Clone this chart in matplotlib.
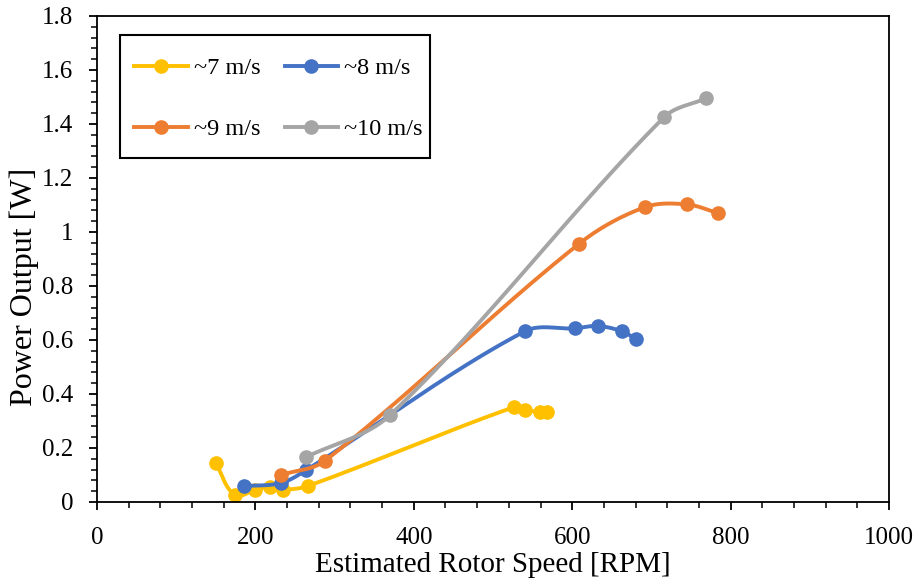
import matplotlib.pyplot as plt
import numpy as np
from matplotlib.patches import Rectangle
from matplotlib.ticker import MultipleLocator

plt.rcParams['font.family'] = ['Liberation Serif', 'DejaVu Serif']

# data (RPM, W)
rpm_7 = [150, 174, 199, 218, 235, 266, 527, 541, 559, 568]
pw_7 = [0.144, 0.026, 0.044, 0.055, 0.046, 0.059, 0.352, 0.342, 0.332, 0.333]
rpm_8 = [185, 232, 264, 540, 604, 632, 663, 681]
pw_8 = [0.059, 0.070, 0.118, 0.632, 0.643, 0.652, 0.632, 0.602]
rpm_9 = [232, 288, 609, 692, 745, 784]
pw_9 = [0.100, 0.153, 0.957, 1.092, 1.102, 1.070]
rpm_10 = [264, 370, 716, 769]
pw_10 = [0.166, 0.322, 1.425, 1.495]

labels = ['~7 m/s', '~8 m/s', '~9 m/s', '~10 m/s']
colors = ['#FFC000', '#4472C4', '#ED7D31', '#A5A5A5']

# rough pixel scale of the axes, so the smoothing works in screen space
SX, SY = 0.793, 270.6


def smooth(x, y, n=40, k=1 / 3):
    # bezier through the points, tangent from the neighbours and
    # handle length tied to the segment length (Excel-like smoothing)
    p = np.column_stack([np.asarray(x, float) * SX, np.asarray(y, float) * SY])
    ext = np.vstack([2 * p[0] - p[1], p, 2 * p[-1] - p[-2]])
    t = np.linspace(0, 1, n)[:, None]
    out = []
    for i in range(1, len(ext) - 2):
        p0, p1, p2, p3 = ext[i - 1], ext[i], ext[i + 1], ext[i + 2]
        seg = np.linalg.norm(p2 - p1)
        d1 = (p2 - p0) / np.linalg.norm(p2 - p0)
        d2 = (p3 - p1) / np.linalg.norm(p3 - p1)
        c1 = p1 + d1 * seg * k
        c2 = p2 - d2 * seg * k
        out.append((1 - t) ** 3 * p1 + 3 * (1 - t) ** 2 * t * c1
                   + 3 * (1 - t) * t ** 2 * c2 + t ** 3 * p2)
    c = np.vstack(out)
    return c[:, 0] / SX, c[:, 1] / SY


fig = plt.figure(figsize=(9.18, 5.8), dpi=100)
ax = fig.add_axes([0.1057, 0.1345, 0.8627, 0.838])

handles = []
for xs, ys, lab, c in zip([rpm_7, rpm_8, rpm_9, rpm_10], [pw_7, pw_8, pw_9, pw_10], labels, colors):
    sx, sy = smooth(xs, ys)
    ax.plot(sx, sy, color=c, linewidth=2.8, solid_capstyle='round')
    ax.plot(xs, ys, 'o', color=c, markersize=9.5)
    h, = ax.plot([], [], '-o', color=c, linewidth=2.8, markersize=9.5, label=lab)
    handles.append(h)

ax.set_xlim(0, 1000)
ax.set_ylim(0, 1.8)
ax.xaxis.set_major_locator(MultipleLocator(200))
ax.xaxis.set_minor_locator(MultipleLocator(40))
ax.yaxis.set_major_locator(MultipleLocator(0.2))
ax.yaxis.set_minor_locator(MultipleLocator(0.04))
ax.yaxis.set_major_formatter(plt.FuncFormatter(lambda v, p: f'{v:g}'))
ax.tick_params(which='major', direction='out', length=6, width=1.3, labelsize=18)
ax.tick_params(which='minor', direction='out', length=4, width=1.1)
ax.tick_params(axis='x', which='major', pad=12)
ax.tick_params(axis='y', which='major', pad=11)
for s in ax.spines.values():
    s.set_linewidth(1.3)

ax.set_xlabel('Estimated Rotor Speed [RPM]', fontsize=21, labelpad=2)
ax.set_ylabel('Power Output [W]', fontsize=23, labelpad=2)
ax.yaxis.label.set_y(0.442)

# legend box drawn by hand (Excel leaves almost no room on the right)
ax.add_patch(Rectangle((0.029, 0.708), 0.3915, 0.253, transform=ax.transAxes,
                       fill=True, facecolor='white', edgecolor='black',
                       linewidth=1.5, zorder=4))
order = [0, 2, 1, 3]
leg = ax.legend([handles[i] for i in order], [labels[i] for i in order],
                ncol=2, loc='upper left', bbox_to_anchor=(0.047, 0.915),
                fontsize=17.5, frameon=False,
                handlelength=2.2, handletextpad=0.25, labelspacing=1.6,
                columnspacing=1.0, borderpad=0, borderaxespad=0)
leg.set_zorder(5)

fig.savefig('out.png', dpi=100)
